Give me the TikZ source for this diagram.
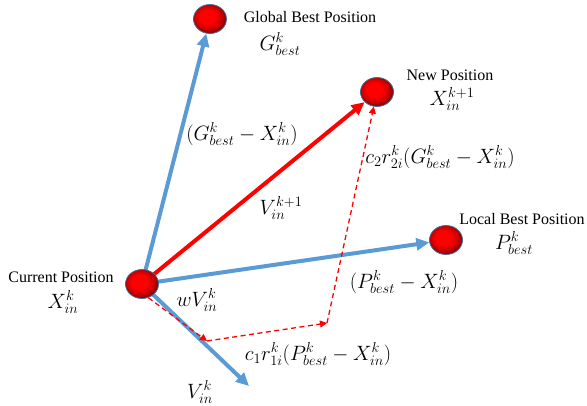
\documentclass[tikz,border=0pt]{standalone}
\usepackage{fontspec}
\setmainfont{Liberation Serif}
\usetikzlibrary{shapes.geometric,arrows.meta,backgrounds}
\DeclareMathSizes{20}{20}{15}{12}
\definecolor{pblue}{HTML}{5B9BD5}
\definecolor{ballrim}{HTML}{41719C}
\pgfdeclareradialshading{redball}{\pgfpoint{-5bp}{5bp}}{%
  color(0bp)=(red); color(12bp)=(red); color(20bp)=(red!80!black);
  color(26bp)=(red!55!black); color(50bp)=(red!55!black)}
\tikzset{
  ball/.style={ellipse,minimum width=33pt,minimum height=29pt,inner sep=0pt,
    shading=redball,draw=ballrim,line width=0.8pt},
  bluearrow/.style={draw=pblue,line width=4pt,-{Triangle[length=13pt,width=12pt]}},
  redarrow/.style={draw=red,line width=4pt,-{Triangle[length=13pt,width=12pt]}},
  dasharrow/.style={draw=red,line width=1.3pt,dash pattern=on 5pt off 3.5pt,-{Triangle[length=7pt,width=7pt]}},
  lbl/.style={font=\fontsize{16}{18}\selectfont,inner sep=0pt},
  mth/.style={font=\fontsize{20}{22}\selectfont,inner sep=0pt}
}
\begin{document}
\begin{tikzpicture}[x=1pt,y=-1pt]
\useasboundingbox (0,0) rectangle (587,406);
\node[ball] (gb) at (210,19) {};
\node[ball] (np) at (377,92) {};
\node[ball] (lb) at (446,240) {};
\node[ball] (cur) at (142,284) {};
\coordinate (vend) at (249,386);
\coordinate (c1) at (207,341);
\coordinate (c2) at (327,323);
\begin{scope}[on background layer]
\draw[bluearrow] (cur.center) -- (gb);
\draw[redarrow] (cur.center) -- (np);
\draw[bluearrow] (cur.center) -- (lb);
\draw[bluearrow] (cur.center) -- (vend);
\end{scope}
\draw[dasharrow] (cur.-65) -- (c1);
\draw[dasharrow] (c1) -- (c2);
\draw[dasharrow] (c2) -- (np);
\node[lbl] (tgb) at (310,17) {Global Best Position};
\node[mth] (mgb) at (280,44) {$G_{best}^{k}$};
\node[lbl] (tnp) at (450,75) {New Position};
\node[mth] (mnp) at (452,99) {$X_{in}^{k+1}$};
\node[mth] (mgx) at (242,134) {$(G_{best}^{k}-X_{in}^{k})$};
\node[mth] (mc2) at (440,157) {$c_2r_{2i}^{k}(G_{best}^{k}-X_{in}^{k})$};
\node[mth] (mv1) at (281,208) {$V_{in}^{k+1}$};
\node[lbl] (tlb) at (522,219) {Local Best Position};
\node[mth] (mlb) at (514,243) {$P_{best}^{k}$};
\node[lbl] (tcur) at (61,277) {Current Position};
\node[mth] (mcur) at (63,302) {$X_{in}^{k}$};
\node[mth] (mw) at (197,300) {$wV_{in}^{k}$};
\node[mth] (mpx) at (404,282) {$(P_{best}^{k}-X_{in}^{k})$};
\node[mth] (mc1) at (318,354) {$c_1r_{1i}^{k}(P_{best}^{k}-X_{in}^{k})$};
\node[mth] (mv) at (200,392) {$V_{in}^{k}$};
\end{tikzpicture}
\end{document}
